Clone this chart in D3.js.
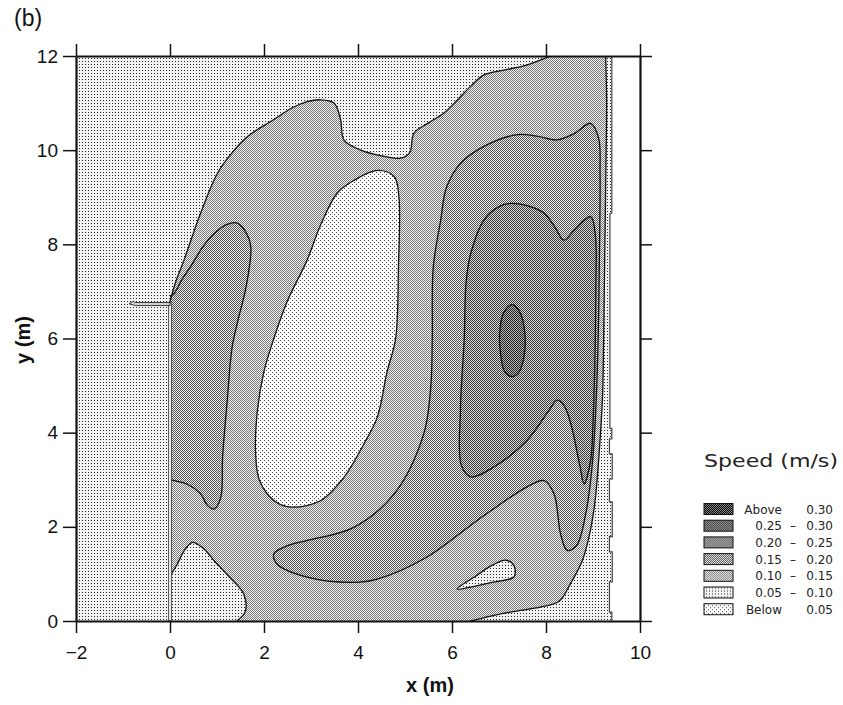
<!DOCTYPE html>
<html>
<head>
<meta charset="utf-8">
<script src="https://cdn.jsdelivr.net/npm/d3@7"></script>
<style>
  body { margin: 0; background: #fff; }
  svg { display: block; }
  text { font-family: "Liberation Sans", Arial, sans-serif; fill: #111; }
  .legend text { font-family: "DejaVu Sans", sans-serif; fill: #222; }
</style>
</head>
<body>
<svg id="chart" width="843" height="705"></svg>
<script>
// axes
const xTicks = [-2, 0, 2, 4, 6, 8, 10];
const yTicks = [0, 2, 4, 6, 8, 10, 12];

// legend (top row first), level 0 = below 0.05
const legendFrom = ["Above", "0.25", "0.20", "0.15", "0.10", "0.05", "Below"];
const legendTo = ["0.30", "0.30", "0.25", "0.20", "0.15", "0.10", "0.05"];
const legendLevel = [6, 5, 4, 3, 2, 1, 0];

// room outline, right wall with its steps (m)
const wallEdge = [[9.40, 12], [9.40, 8.66], [9.36, 8.66], [9.36, 4.09], [9.40, 4.09], [9.40, 3.87],
  [9.35, 3.87], [9.35, 3.55], [9.41, 3.55], [9.41, 3.02], [9.35, 3.02], [9.35, 2.53], [9.41, 2.53],
  [9.41, 1.79], [9.35, 1.79], [9.35, 1.47], [9.41, 1.47], [9.41, 0.83], [9.35, 0.83], [9.35, 0.19],
  [9.40, 0.19], [9.40, 0]];
const partition = [[0, 0], [0, 6.76]];
const inletStub = [[-0.87, 6.74], [-0.78, 6.79], [-0.74, 6.765], [0, 6.765], [0, 6.70], [-0.74, 6.70], [-0.78, 6.71]];

// contour lines (x, y in m)
const ringTop = [[0.0, 6.78], [0.12, 7.2], [0.3, 7.67], [0.65, 8.66], [1.01, 9.51], [1.3, 9.92], [1.65, 10.29],
  [2.21, 10.65], [2.6, 10.9], [2.92, 11.03], [3.2, 11.07], [3.49, 11.0], [3.63, 10.65], [3.7, 10.22],
  [4.06, 10.0], [4.5, 9.88], [4.91, 9.83], [5.1, 9.95], [5.19, 10.36], [5.5, 10.58], [5.83, 10.79],
  [6.1, 11.05], [6.4, 11.36], [6.68, 11.6], [7.1, 11.7], [7.53, 11.79], [7.85, 11.9], [8.1, 12.0]];
const ringRight = [[9.27, 12.0], [9.29, 11.0], [9.28, 10.0], [9.26, 8.5], [9.24, 7.0], [9.22, 5.5], [9.2, 4.7],
  [9.14, 3.7], [9.05, 2.6], [8.95, 1.95], [8.78, 1.3], [8.52, 0.79], [8.28, 0.42], [7.9, 0.3], [7.3, 0.2],
  [6.8, 0.1], [6.4, 0.0]];
const cornerLow = [[1.42, 0.0], [1.6, 0.2], [1.57, 0.57], [1.25, 0.95], [0.94, 1.28], [0.7, 1.55],
  [0.48, 1.67], [0.32, 1.52], [0.15, 1.2], [0.0, 0.95]];
const jetLeft = [[0.0, 6.9], [0.09, 6.96], [0.25, 7.25], [0.44, 7.53], [0.7, 7.95], [0.94, 8.23], [1.2, 8.42],
  [1.43, 8.45], [1.62, 8.25], [1.72, 7.95], [1.62, 7.1], [1.45, 6.4], [1.32, 5.8], [1.22, 4.7], [1.12, 3.5],
  [1.08, 2.62], [0.94, 2.38], [0.8, 2.45], [0.65, 2.7], [0.36, 2.91], [0.09, 2.98], [0.0, 3.0]];
const eye = [[2.21, 6.0], [2.5, 6.8], [2.92, 7.67], [3.2, 8.4], [3.56, 9.09], [3.9, 9.35], [4.41, 9.57],
  [4.77, 9.44], [4.87, 9.01], [4.86, 7.5], [4.8, 6.0], [4.62, 5.3], [4.41, 4.33], [4.13, 3.77], [3.7, 3.05],
  [3.21, 2.56], [2.57, 2.42], [2.21, 2.56], [1.9, 3.0], [1.82, 3.6], [1.86, 4.47], [2.0, 5.3]];
const bandRight = [[5.58, 6.0], [5.6, 7.5], [5.76, 8.52], [5.88, 9.2], [6.18, 9.72], [6.68, 10.08], [7.39, 10.33],
  [7.8, 10.3], [8.24, 10.22], [8.6, 10.35], [8.95, 10.57], [9.12, 10.25], [9.15, 9.5], [9.14, 8.0],
  [9.12, 6.5], [9.08, 5.0], [9.0, 3.5], [8.85, 2.3], [8.65, 1.6], [8.45, 1.5], [8.31, 1.85], [8.17, 2.7],
  [7.96, 2.98], [7.6, 2.85], [6.53, 2.13], [5.47, 1.36], [4.41, 0.89], [3.91, 0.82], [2.92, 0.93],
  [2.28, 1.21], [2.21, 1.43], [2.5, 1.6], [2.92, 1.71], [3.91, 1.99], [4.77, 2.7], [5.4, 3.98], [5.55, 5.0]];
const coreRight = [[6.26, 6.0], [6.3, 7.2], [6.4, 7.81], [6.68, 8.52], [7.0, 8.8], [7.25, 8.87], [7.6, 8.82],
  [7.96, 8.66], [8.2, 8.35], [8.38, 8.09], [8.6, 8.3], [8.95, 8.59], [9.05, 8.2], [9.06, 7.0], [9.04, 5.5],
  [9.0, 4.2], [8.95, 3.41], [8.81, 2.91], [8.72, 3.3], [8.55, 4.1], [8.4, 4.55], [8.24, 4.69], [8.05, 4.45],
  [7.6, 3.84], [6.89, 3.27], [6.4, 3.06], [6.2, 3.3], [6.18, 4.5]];
const peak = [[7.28, 6.72], [7.45, 6.55], [7.55, 6.1], [7.53, 5.6], [7.42, 5.28], [7.28, 5.19], [7.12, 5.3],
  [7.03, 5.7], [7.02, 6.2], [7.1, 6.55]];
const lull = [[6.11, 0.68], [6.5, 0.95], [6.85, 1.18], [7.15, 1.29], [7.32, 1.17], [7.32, 0.94], [6.85, 0.82],
  [6.4, 0.72]];

// speed level of each zone (index into the legend scale)
const levelOuter = 1;
const levelRing = 2;
const levelJet = 3;
const levelBand = 3;
const levelCore = 4;
const levelPeak = 5;
const levelEye = 0;
const levelLull = 1;

const chart = {
  patterns: [
    { bg: '#ffffff', dot: '#444444', size: 4, dots: [[0, 0], [2, 2]] },
    { bg: '#f2f2f2', dot: '#2a2a2a', size: 3, dots: [[1, 1]] },
    { bg: '#f4f4f4', dot: '#777777', size: 2, dots: [[0, 0], [1, 1]] },
    { bg: '#eaeaea', dot: '#555555', size: 2, dots: [[0, 0], [1, 1]] },
    { bg: '#d8d8d8', dot: '#3a3a3a', size: 2, dots: [[0, 0], [1, 1]] },
    { bg: '#b4b4b4', dot: '#222222', size: 2, dots: [[0, 0], [1, 1]] },
    { bg: '#8a8a8a', dot: '#000000', size: 2, dots: [[0, 0], [1, 1]] }
  ],

  init() {
    this.svg = d3.select('#chart');
    this.x = d3.scaleLinear().domain([-2, 10]).range([76, 640]);
    this.y = d3.scaleLinear().domain([0, 12]).range([621, 56]);
    this.curve = d3.line().x((d) => this.x(d[0])).y((d) => this.y(d[1])).curve(d3.curveCatmullRom.alpha(0.5));
    this.loop = d3.line().x((d) => this.x(d[0])).y((d) => this.y(d[1])).curve(d3.curveCatmullRomClosed.alpha(0.5));
    this.straight = d3.line().x((d) => this.x(d[0])).y((d) => this.y(d[1]));

    this.makePatterns();
    this.drawZones();
    this.drawWalls();
    this.drawAxes();
    this.drawLegend();
  },

  makePatterns() {
    const defs = this.svg.append('defs');
    this.patterns.forEach((p, i) => {
      const pat = defs.append('pattern')
        .attr('id', `lev${i}`)
        .attr('patternUnits', 'userSpaceOnUse')
        .attr('width', p.size)
        .attr('height', p.size);
      pat.append('rect').attr('width', p.size).attr('height', p.size).attr('fill', p.bg);
      p.dots.forEach((d) => {
        pat.append('rect').attr('x', d[0]).attr('y', d[1]).attr('width', 1).attr('height', 1).attr('fill', p.dot);
      });
    });
    this.room = [[-2, 0], [-2, 12]].concat(wallEdge);
    defs.append('clipPath').attr('id', 'roomClip')
      .append('path').attr('d', this.straight(this.room) + 'Z');
  },

  // joins curved contour pieces and straight wall pieces into one outline
  outline(pieces) {
    let d = '';
    pieces.forEach((p, i) => {
      let s = (p.curved ? this.curve : this.straight)(p.pts);
      if (i > 0) s = 'L' + s.slice(1);
      d += s;
    });
    return d + 'Z';
  },

  drawZones() {
    const fills = this.svg.append('g').attr('clip-path', 'url(#roomClip)');
    const fill = (d, level) => fills.append('path').attr('d', d).attr('fill', `url(#lev${level})`);

    fill(this.straight(this.room) + 'Z', levelOuter);
    fill(this.outline([
      { pts: ringTop, curved: true },
      { pts: [[8.1, 12], [9.27, 12]], curved: false },
      { pts: ringRight, curved: true },
      { pts: [[6.4, 0], [1.42, 0]], curved: false },
      { pts: cornerLow, curved: true },
      { pts: [[0, 0.95], [0, 6.78]], curved: false }
    ]), levelRing);
    fill(this.loop(eye), levelEye);
    fill(this.outline([
      { pts: jetLeft, curved: true },
      { pts: [[0, 3.0], [0, 6.9]], curved: false }
    ]), levelJet);
    fill(this.loop(bandRight), levelBand);
    fill(this.loop(coreRight), levelCore);
    fill(this.loop(peak), levelPeak);
    fill(this.loop(lull), levelLull);

    const lines = fills.append('g')
      .attr('fill', 'none')
      .attr('stroke', '#111')
      .attr('stroke-width', 1.3);
    [ringTop, ringRight, cornerLow, jetLeft].forEach((pts) => {
      lines.append('path').attr('d', this.curve(pts));
    });
    [eye, bandRight, coreRight, peak, lull].forEach((pts) => {
      lines.append('path').attr('d', this.loop(pts));
    });
  },

  drawWalls() {
    this.svg.append('path')
      .attr('d', this.straight(wallEdge))
      .attr('fill', 'none')
      .attr('stroke', '#444')
      .attr('stroke-width', 1.2);
    const x0 = this.x(partition[0][0]);
    this.svg.append('rect')
      .attr('x', x0 - 1.6)
      .attr('y', this.y(partition[1][1]))
      .attr('width', 3.2)
      .attr('height', this.y(partition[0][1]) - this.y(partition[1][1]))
      .attr('fill', '#e6e6e6')
      .attr('stroke', '#3a3a3a')
      .attr('stroke-width', 0.8);
    this.svg.append('path')
      .attr('d', this.straight(inletStub) + 'Z')
      .attr('fill', '#d0d0d0')
      .attr('stroke', '#222')
      .attr('stroke-width', 0.9);
  },

  styleAxis(g) {
    g.select('.domain').attr('stroke', '#111').attr('stroke-width', 2.2);
    g.selectAll('.tick line').attr('stroke', '#111').attr('stroke-width', 1.5);
    g.selectAll('.tick text').attr('font-size', 19).attr('fill', '#111');
  },

  drawAxes() {
    const x = this.x;
    const y = this.y;
    const blank = () => '';

    this.svg.append('g')
      .attr('transform', `translate(0,${y(0)})`)
      .call(d3.axisBottom(x).tickValues(xTicks).tickSize(12).tickPadding(13).tickSizeOuter(0))
      .call((g) => this.styleAxis(g));
    this.svg.append('g')
      .attr('transform', `translate(0,${y(12)})`)
      .call(d3.axisTop(x).tickValues(xTicks).tickSize(12).tickFormat(blank).tickSizeOuter(0))
      .call((g) => this.styleAxis(g));
    this.svg.append('g')
      .attr('transform', `translate(${x(-2)},0)`)
      .call(d3.axisLeft(y).tickValues(yTicks).tickSize(13).tickPadding(5).tickSizeOuter(0))
      .call((g) => this.styleAxis(g));
    this.svg.append('g')
      .attr('transform', `translate(${x(10)},0)`)
      .call(d3.axisRight(y).tickValues(yTicks).tickSize(12).tickFormat(blank).tickSizeOuter(0))
      .call((g) => this.styleAxis(g));

    this.svg.append('text')
      .attr('x', 430).attr('y', 692)
      .attr('text-anchor', 'middle')
      .attr('font-size', 20).attr('font-weight', 'bold')
      .text('x (m)');
    this.svg.append('text')
      .attr('transform', 'translate(30,340) rotate(-90)')
      .attr('text-anchor', 'middle')
      .attr('font-size', 20).attr('font-weight', 'bold')
      .text('y (m)');
    this.svg.append('text')
      .attr('x', 14).attr('y', 26)
      .attr('font-size', 23)
      .text('(b)');
  },

  drawLegend() {
    const lg = this.svg.append('g').attr('class', 'legend');
    lg.append('text')
      .attr('x', 704).attr('y', 467)
      .attr('font-size', 18)
      .attr('textLength', 134)
      .attr('lengthAdjust', 'spacingAndGlyphs')
      .text('Speed (m/s)');

    const rows = lg.selectAll('g.row')
      .data(legendLevel)
      .join('g')
      .attr('class', 'row')
      .attr('transform', (d, i) => `translate(0,${509 + i * 16.7})`);
    rows.append('rect')
      .attr('x', 704).attr('y', -5.5)
      .attr('width', 29).attr('height', 11)
      .attr('fill', (d) => `url(#lev${d})`)
      .attr('stroke', '#111').attr('stroke-width', 1);
    rows.append('text')
      .attr('x', 782).attr('y', 4.5)
      .attr('text-anchor', 'end')
      .attr('font-size', 12)
      .text((d, i) => legendFrom[i]);
    rows.filter((d, i) => i > 0 && i < legendLevel.length - 1)
      .append('text')
      .attr('x', 793).attr('y', 4.5)
      .attr('text-anchor', 'middle')
      .attr('font-size', 12)
      .text('\u2013');
    rows.append('text')
      .attr('x', 833).attr('y', 4.5)
      .attr('text-anchor', 'end')
      .attr('font-size', 12)
      .text((d, i) => legendTo[i]);
  }
};

chart.init();
</script>
</body>
</html>
